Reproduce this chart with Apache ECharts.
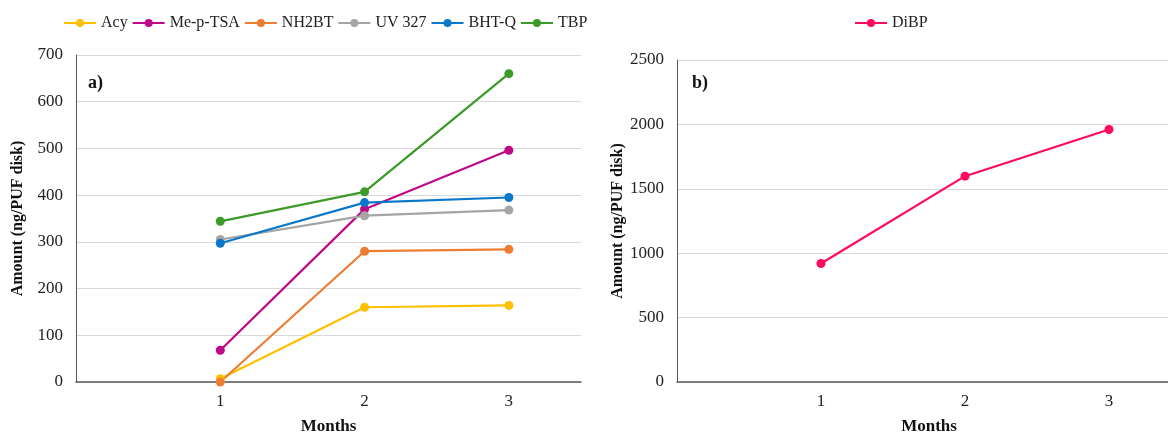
<!DOCTYPE html>
<html>
<head>
<meta charset="utf-8">
<script src="https://cdn.jsdelivr.net/npm/echarts@6/dist/echarts.min.js"></script>
<style>
  html, body { margin: 0; padding: 0; background: #fff; }
  #chart { width: 1168px; height: 433px; }
</style>
</head>
<body>
<div id="chart"></div>
<script>
const months = [1, 2, 3]
const acy = [7, 160, 164]
const mePTSA = [68, 370, 496]
const nh2bt = [0, 280, 284]
const uv327 = [305, 356, 368]
const bhtQ = [297, 384, 395]
const tbp = [344, 407, 660]
const dibp = [920, 1598, 1960]

const FONT = '"Liberation Serif", "Times New Roman", serif'
const AXIS = '#595959'
const GRID = '#D9D9D9'

const pairs = vals => months.map((m, i) => [m, vals[i]])

function line(name, vals, color, idx) {
  return {
    name, type: 'line', data: pairs(vals),
    xAxisIndex: idx, yAxisIndex: idx,
    symbol: 'circle', symbolSize: 9,
    lineStyle: { width: 2.2, color },
    itemStyle: { color },
    emphasis: { disabled: true },
  }
}

const xBase = {
  type: 'value', min: 0, max: 3.5, interval: 1,
  axisLine: { lineStyle: { color: AXIS, width: 1.5 } },
  axisTick: { show: false },
  splitLine: { show: false },
  axisLabel: { color: '#222', fontFamily: FONT, fontSize: 17, margin: 11,
    formatter: v => (v >= 1 && v <= 3 ? String(v) : '') },
  name: 'Months', nameLocation: 'middle', nameGap: 36,
  nameTextStyle: { color: '#111', fontFamily: FONT, fontSize: 17, fontWeight: 'bold' },
}
const yBase = {
  type: 'value', min: 0,
  axisLine: { show: true, lineStyle: { color: AXIS, width: 1 } },
  axisTick: { show: false },
  splitLine: { lineStyle: { color: GRID, width: 1 } },
  axisLabel: { color: '#222', fontFamily: FONT, fontSize: 17, margin: 13,
    formatter: v => String(v) },
  name: 'Amount (ng/PUF disk)', nameLocation: 'middle',
  nameTextStyle: { color: '#111', fontFamily: FONT, fontSize: 16, fontWeight: 'bold' },
}
const legendText = { color: '#222', fontFamily: FONT, fontSize: 16 }

const chart = echarts.init(document.getElementById('chart'), null, { renderer: 'canvas' })
chart.setOption({
  animation: false,
  backgroundColor: '#fff',
  legend: [
    { left: 58, top: 10, itemWidth: 32, itemHeight: 10, itemGap: 4,
      textStyle: legendText,
      data: ['Acy', 'Me-p-TSA', 'NH2BT', 'UV 327', 'BHT-Q', 'TBP'] },
    { left: 849, top: 10, itemWidth: 32, itemHeight: 10,
      textStyle: legendText, data: ['DiBP'] },
  ],
  grid: [
    { left: 76, top: 55, width: 505, bottom: 51, outerBoundsMode: 'none' },
    { left: 677, top: 60, right: -13, bottom: 51, outerBoundsMode: 'none' },
  ],
  xAxis: [
    { ...xBase, gridIndex: 0 },
    { ...xBase, gridIndex: 1 },
  ],
  yAxis: [
    { ...yBase, gridIndex: 0, max: 700, interval: 100, nameGap: 50 },
    { ...yBase, gridIndex: 1, max: 2500, interval: 500, nameGap: 51 },
  ],
  graphic: [
    { type: 'text', left: 88, top: 74,
      style: { text: 'a)', font: 'bold 18px ' + FONT, fill: '#111' } },
    { type: 'text', left: 692, top: 74,
      style: { text: 'b)', font: 'bold 18px ' + FONT, fill: '#111' } },
  ],
  series: [
    line('Acy', acy, '#FFC000', 0),
    line('Me-p-TSA', mePTSA, '#BF0A87', 0),
    line('NH2BT', nh2bt, '#ED7D31', 0),
    line('UV 327', uv327, '#A5A5A5', 0),
    line('BHT-Q', bhtQ, '#0A78C8', 0),
    line('TBP', tbp, '#3C9A28', 0),
    line('DiBP', dibp, '#FF0A5C', 1),
  ],
})
</script>
</body>
</html>
